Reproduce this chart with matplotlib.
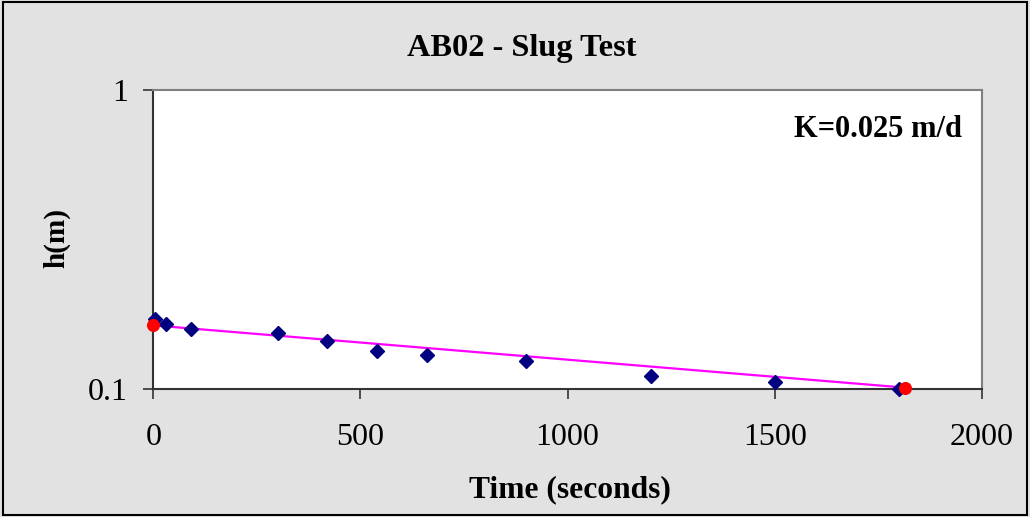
import numpy as np
import matplotlib
matplotlib.use("Agg")
import matplotlib.pyplot as plt
from matplotlib.patches import Rectangle

plt.rcParams['font.family'] = ['Liberation Serif', 'DejaVu Serif']

# slug test readings
time_s = [5, 30, 90, 300, 420, 540, 660, 900, 1200, 1500, 1800]
head_m = [0.171, 0.165, 0.159, 0.154, 0.145, 0.134, 0.130, 0.124, 0.110, 0.105, 0.100]

# fitted line end points (red dots)
fit_t = [0, 1815]
fit_h = [0.163, 0.1008]

xticks = [0, 500, 1000, 1500, 2000]
yticks = [0.1, 1]
ytick_labels = ['0.1', '1']

fig = plt.figure(figsize=(10.3, 5.17), dpi=100)
fig.patch.set_facecolor('#e2e2e2')
ax = fig.add_axes([0.1488, 0.2482, 0.8046, 0.5771])
ax.set_facecolor('white')

ax.plot(fit_t, fit_h, color='#ff00ff', lw=1.6, zorder=2)
ax.plot(time_s, head_m, 'D', color='#000080', ms=7, ls='none', zorder=3, clip_on=False)
ax.plot(fit_t, fit_h, 'o', color='#ff0000', ms=8.4, ls='none', zorder=4, clip_on=False)

ax.set_yscale('log')
ax.set_xlim(0, 2000)
ax.set_ylim(0.1, 1)
ax.set_xticks(xticks)
ax.set_yticks(yticks)
ax.set_yticklabels(ytick_labels)
ax.minorticks_off()
ax.tick_params(axis='both', labelsize=23, length=7.2, width=1.2, color='#333333')
ax.tick_params(axis='y', pad=11)
ax.tick_params(axis='x', pad=17.5)

for s in ['left', 'bottom']:
    ax.spines[s].set_color('#333333')
    ax.spines[s].set_linewidth(1.5)
for s in ['top', 'right']:
    ax.spines[s].set_color('#808080')
    ax.spines[s].set_linewidth(1.5)

ax.text(0.976, 0.870, 'K=0.025 m/d', transform=ax.transAxes, ha='right', va='center',
        fontsize=22, fontweight='bold')

fig.text(522 / 1030, 0.8917, 'AB02 - Slug Test', ha='center', va='baseline',
         fontsize=23.3, fontweight='bold')
fig.text(570 / 1030, 0.0387, 'Time (seconds)', ha='center', va='baseline',
         fontsize=22.7, fontweight='bold')
fig.text(57 / 1030, 0.5397, 'h(m)', ha='center', va='center', rotation=90,
         fontsize=21, fontweight='bold')

# chart frame
fig.patches.append(Rectangle((0.003, 0.003), 0.994, 0.994, transform=fig.transFigure,
                             fill=False, edgecolor='black', lw=1.5))

fig.savefig('out.png', dpi=100, facecolor=fig.get_facecolor())
